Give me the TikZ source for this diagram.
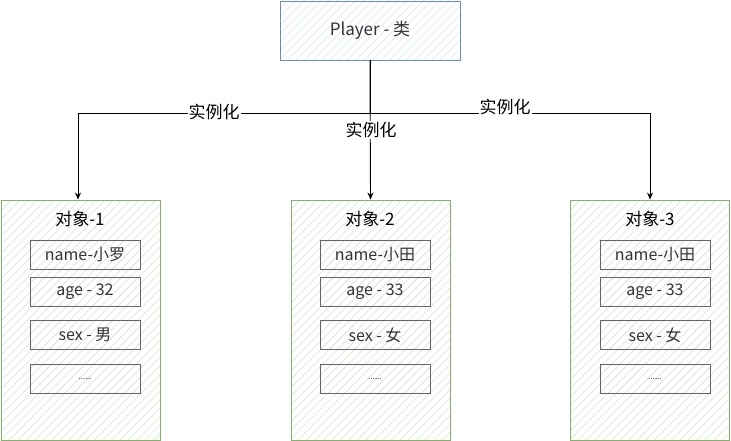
\documentclass[tikz,border=0pt]{standalone}
\usepackage{fontspec}
\setmainfont{Noto Sans CJK SC}
\usetikzlibrary{patterns.meta,arrows.meta}
\definecolor{bluefill}{HTML}{DAE8FC}
\definecolor{blueline}{HTML}{6C8EBF}
\definecolor{greenfill}{HTML}{D5E8D4}
\definecolor{greenline}{HTML}{82B366}
\definecolor{grayfill}{HTML}{E6E6E6}
\definecolor{grayline}{HTML}{666666}
\definecolor{txt}{HTML}{333333}
\tikzset{
  hatch/.style={pattern={Lines[angle=45,distance=6pt,line width=0.7pt]},pattern color=#1},
  classbox/.style={draw=blueline,line width=0.9pt,hatch=bluefill,minimum width=180pt,minimum height=59pt,inner sep=0pt,font=\fontsize{17}{19}\selectfont,text=txt},
  objbox/.style={draw=greenline,line width=0.9pt,hatch=greenfill,minimum width=159pt,minimum height=240pt,inner sep=0pt},
  field/.style={draw=grayline,line width=0.9pt,hatch=grayfill,minimum width=110pt,minimum height=29pt,inner sep=0pt,font=\fontsize{16}{18}\selectfont,text=txt},
  otitle/.style={font=\fontsize{17}{19}\selectfont,text=black},
  conn/.style={draw=black,line width=0.9pt,-{Stealth[length=7pt,width=6pt]}},
  lbl/.style={fill=white,inner sep=1pt,font=\fontsize{17}{19}\selectfont,text=black}
}
\begin{document}
\begin{tikzpicture}[x=1pt,y=-1pt]
\useasboundingbox (0,0) rectangle (731,441);
\node[classbox] (P) at (370,30.5) {Player - 类};
\node[objbox] (o1) at (80.5,320) {};
\node[objbox] (o2) at (370.5,320) {};
\node[objbox] (o3) at (650,320) {};
\node[otitle] (t1) at (80,219) {对象-1};
\node[otitle] (t2) at (370,219) {对象-2};
\node[otitle] (t3) at (650,219) {对象-3};
% fields
\foreach \i/\cx/\n/\a/\s in {1/85/小罗/32/男, 2/375/小田/33/女, 3/655/小田/33/女}{
  \node[field] (n\i) at (\cx,255) {name-\n};
  \node[field] (a\i) at (\cx,291.5) {age - \a};
  \node[field] (s\i) at (\cx,335) {sex - \s};
  \node[field] (d\i) at (\cx,379) {\fontsize{8}{8}\selectfont ......};
}
\coordinate (j) at (0,113);
\draw[conn] (P.south) -- (P.south |- j) -| (o1.north -| 78,0);
\draw[conn] (P.south) -- (o2.north);
\draw[conn] (P.south) -- (P.south |- j) -| (o3.north);
\node[lbl] (l1) at (214,112) {实例化};
\node[lbl] (l2) at (371,130) {实例化};
\node[lbl] (l3) at (505,107) {实例化};
\end{tikzpicture}
\end{document}
